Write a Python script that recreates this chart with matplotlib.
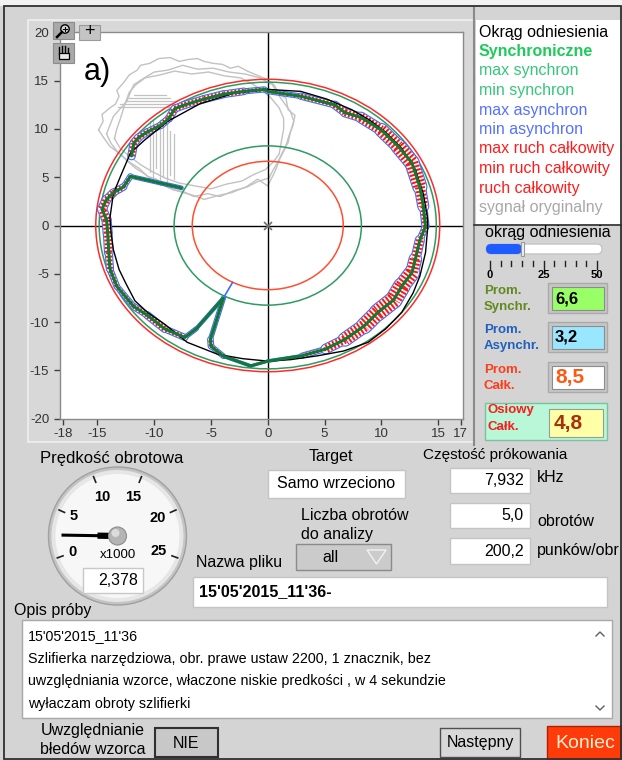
import numpy as np
import matplotlib
matplotlib.use("Agg")
import matplotlib.pyplot as plt
from matplotlib.patches import Circle, Rectangle, FancyBboxPatch, Polygon
from matplotlib.collections import LineCollection

plt.rcParams['font.family'] = ['Liberation Sans', 'DejaVu Sans']
plt.rcParams['lines.scale_dashes'] = False

# ---------------- data ----------------
x_ticks = [-18, -15, -10, -5, 0, 5, 10, 15, 17]
y_ticks = [-20, -15, -10, -5, 0, 5, 10, 15, 20]

ring_radii = [15.15, 14.85, 8.25, 6.65]
ring_colors = ['#ff2b2b', '#2f9a62', '#2f9a62', '#ff4f2f']

# synchronous trace (x, y), NaN = break
sync_x = [-0.3, 0.0, 2.9, 5.9, 6.8, 8.2, 10.0, 11.5, 12.7, 13.4, 13.7, 13.9,
          13.4, 13.0, 12.7, 11.8, 11.1, 9.7, 8.5, 6.8, 5.1, 3.0, 0.0, -1.5,
          -3.9, -5.0, -5.05, -3.9, -6.3, -7.3, -9.1, -10.6, -11.8, -13.3, -13.9,
          -14.0, -14.1, -14.2, -14.6, -14.2, -13.6, -12.7, -12.1, -7.6, np.nan,
          -12.0, -11.8, -11.4, -10.6, -9.4, -8.7, -8.2, -7.3, -5.6, -3.9, -2.1, -0.3]
sync_y = [14.1, 13.9, 13.4, 12.5, 11.7, 11.2, 9.9, 8.2, 6.5, 4.0, 2.0, -0.1,
          -1.5, -3.5, -4.9, -6.3, -7.7, -9.0, -10.4, -11.8, -12.8, -13.5, -14.05, -14.55,
          -13.55, -12.5, -11.8, -7.5, -10.7, -11.6, -10.7, -9.3, -8.4, -6.3, -4.5,
          -2.8, -0.8, 0.6, 1.7, 2.7, 3.4, 4.0, 5.1, 3.9, np.nan,
          7.2, 8.5, 9.1, 9.7, 10.4, 11.1, 12.1, 12.5, 13.1, 13.6, 13.9, 14.1]
# width (px) of the total-motion band (min..max ruch calkowity) along the trace
band_px = [3, 3, 4, 6, 7, 8, 11, 13, 14, 12, 8, 4,
           6, 10, 13, 15, 16, 15, 14, 11, 6, 2, 1, 1,
           2, 5, 4, 2, 2, 4, 6, 6, 4, 4, 5,
           7, 8, 8, 8, 7, 6, 5, 3, 2, 0,
           6, 7, 6, 5, 5, 6, 6, 6, 6, 6, 5, 3]
spike_x = [-3.9, -3.1]
spike_y = [-7.5, -5.9]

# reference circle (Okrag odniesienia)
ref_x = [0, 2.9, 5.2, 7.4, 9.0, 10.3, 11.8, 13.0, 13.7, 14.05, 14.1, 13.9, 13.4, 12.8,
         11.8, 10.4, 8.85, 6.7, 4.4, 2.0, 0, -2.2, -4.4, -7.1, -9.0, -10.6, -11.7, -12.5,
         -13.1, -13.6, -13.8, -13.9, -13.6, -12.9, -12.1, -10.9, -8.8, -6.0, -3.0, 0]
ref_y = [14.1, 13.9, 13.1, 12.0, 10.9, 9.75, 8.0, 5.8, 3.3, 1.0, -0.1, -2.8, -5.25, -7.0,
         -9.0, -10.7, -12.1, -13.0, -13.5, -13.9, -14.05, -13.8, -13.35, -12.1, -10.3, -9.0,
         -7.8, -6.0, -4.55, -2.5, -0.8, 0.8, 3.3, 5.3, 7.5, 8.8, 10.8, 12.6, 13.7, 14.1]

# original signal (sygnal oryginalny) - several revolutions
orig1_x = [-14.9, -14.5, -14.6, -14.0, -13.4, -13.1, -13.3, -12.7, -12.2, -11.5, -11.2, -10.4,
           -9.6, -8.6, -7.8, -7.0, -6.2, -5.6, -4.8, -4.0, -3.3, -2.6, -1.8, -1.0, 0.0, 0.6,
           1.0, 1.6, 1.8, 2.4, 2.2, 1.9, 1.5, 1.1, 0.6, 0.0, -0.9, -1.9, -3.2, -4.4, -5.6,
           -6.5, -7.4, -8.3, -9.1, -9.8, -10.6, -11.3, -12.1, -13.0, -13.9, -14.4, -14.9]
orig1_y = [9.9, 10.8, 11.5, 12.1, 12.6, 13.4, 14.0, 14.8, 15.6, 16.1, 16.6, 16.8,
           17.3, 17.4, 17.0, 17.2, 17.3, 17.0, 16.8, 16.7, 16.3, 16.5, 16.0, 15.6, 15.1, 14.5,
           13.6, 13.2, 12.0, 11.4, 10.3, 9.4, 7.9, 7.0, 5.5, 4.1, 4.8, 4.0, 3.4, 3.1, 2.7,
           3.1, 3.4, 3.7, 4.1, 4.8, 5.1, 5.9, 6.5, 7.4, 8.2, 9.0, 9.9]
orig2_x = [-14.2, -13.9, -13.6, -13.0, -12.4, -12.1, -11.8, -11.0, -10.0, -8.8, -7.5, -6.2,
           -4.8, -3.4, -2.0, -0.7, 0.4, 0.9, 1.5, 2.0, 2.3, 2.0, 1.8, 1.3, 0.9, 0.5, 0.1,
           -0.8, -1.8, -3.0, -4.2, -5.3, -6.5, -7.4, -8.3, -9.2, -10.0, -10.8, -11.6, -12.4,
           -13.2, -13.8, -14.2]
orig2_y = [9.5, 10.4, 11.3, 12.1, 12.9, 13.8, 14.6, 15.2, 15.9, 16.1, 16.6, 16.2,
           16.3, 15.9, 15.7, 15.3, 14.6, 13.6, 12.6, 11.8, 10.8, 9.7, 8.6, 7.6, 6.6, 5.8, 4.9,
           4.6, 4.0, 3.6, 3.0, 3.3, 3.0, 3.5, 3.7, 4.3, 4.6, 5.3, 5.9, 6.7, 7.6, 8.5, 9.5]
orig3_x = [-13.5, -13.3, -13.0, -12.6, -12.2, -11.6, -10.8, -9.5, -8.2, -6.7, -5.2, -3.8,
           -2.4, -1.4, -0.5, 0.3, 1.0, 1.4, 1.4, 1.2, 1.0, 0.5, -0.2, -1.2, -2.3, -3.6, -5.0,
           -6.4, -7.8, -9.0, -10.2, -11.2, -12.2, -13.0, -13.5]
orig3_y = [9.0, 10.0, 11.0, 12.5, 13.8, 14.6, 15.3, 15.6, 16.0, 15.7, 15.9, 15.5,
           15.3, 14.7, 14.0, 13.2, 12.2, 11.1, 10.0, 8.7, 7.4, 6.6, 5.8, 5.3, 4.6, 4.3, 3.8,
           4.1, 4.4, 4.9, 5.6, 6.3, 7.2, 8.0, 9.0]
comb_x = [-10.4, -10.1, -9.8, -9.5, -9.2, -8.9, -8.6, -8.3]
comb_ytop = [10.8, 11.0, 10.5, 10.9, 10.2, 10.6, 9.8, 9.5]
comb_ybot = [5.5, 4.6, 6.0, 4.2, 5.0, 4.4, 5.2, 4.8]
hb_y = [12.3, 12.6, 12.9, 13.2, 13.5]
hb_x0 = [-13.2, -13.0, -12.6, -12.2, -11.8]
hb_x1 = [-8.2, -7.8, -8.0, -8.6, -9.0]

legend_labels = ['Okrąg odniesienia', 'Synchroniczne', 'max synchron', 'min synchron',
                 'max asynchron', 'min asynchron', 'max ruch całkowity',
                 'min ruch całkowity', 'ruch całkowity', 'sygnał oryginalny']
legend_colors = ['#000000', '#1ecb5a', '#35c77a', '#35c77a', '#5572ff', '#5572ff',
                 '#ff1c1c', '#ff1c1c', '#ff1c1c', '#a8a8a8']

ind_labels = [('Prom.', 'Synchr.'), ('Prom.', 'Asynchr.'), ('Prom.', 'Całk.'), ('Osiowy', 'Całk.')]
ind_values = ['6,6', '3,2', '8,5', '4,8']

gauge_ticks = [0, 5, 10, 15, 20, 25]
gauge_value = 2.378
slider_ticks = [0, 5, 10, 15, 20, 25, 30, 35, 40, 45, 50]
slider_value = 15

sample_rate = '7,932'
revolutions = '5,0'
points_per_rev = '200,2'
file_name = "15'05'2015_11'36-"
desc_lines = ["15'05'2015_11'36",
              "Szlifierka narzędziowa, obr. prawe ustaw 2200, 1 znacznik, bez",
              "uwzględniania wzorce, właczone niskie predkości , w 4 sekundzie",
              "wyłaczam obroty szlifierki"]

# ---------------- figure ----------------
W, H = 622, 760
fig = plt.figure(figsize=(6.22, 7.6), dpi=100)
fig.patch.set_facecolor('#d4d4d4')


def px_box(x0, y0, x1, y1):
    return [x0 / W, 1 - y1 / H, (x1 - x0) / W, (y1 - y0) / H]


ui = fig.add_axes([0, 0, 1, 1], zorder=0)
ui.set_xlim(0, W); ui.set_ylim(H, 0); ui.axis('off')

top = fig.add_axes([0, 0, 1, 1], zorder=5)
top.set_xlim(0, W); top.set_ylim(H, 0); top.axis('off')
top.patch.set_alpha(0)

FS = 11.5


def txt(a, x, y, s, size=FS, color='black', weight='normal', ha='left', va='center', **kw):
    a.text(x, y, s, fontsize=size, color=color, fontweight=weight, ha=ha, va=va, **kw)


def rect(a, x, y, w, h, fc, ec='none', lw=1.0, z=1):
    a.add_patch(Rectangle((x, y), w, h, facecolor=fc, edgecolor=ec, linewidth=lw, zorder=z))


# background panels
rect(ui, 0, 0, W, 6, '#f2f2f2')
rect(ui, 28, 20, 446, 422, '#d8d8d8', '#efefef', 1.2)
ui.plot([474, 474], [8, 445], color='#8a8a8a', lw=1.5)
rect(ui, 476, 20, 146, 204, 'white')
ui.plot([474, 622], [224.5, 224.5], color='#303030', lw=1.2)
ui.add_patch(Rectangle((4, 6), 617, 753, fill=False, edgecolor='#303030', linewidth=1.3, zorder=3))

# legend
for i, (lab, col) in enumerate(zip(legend_labels, legend_colors)):
    txt(ui, 479, 32 + i * 19.5, lab, size=FS, color=col, weight='bold' if i == 1 else 'normal')

# slider
txt(ui, 485, 233, 'okrąg odniesienia', size=FS)
ui.add_patch(FancyBboxPatch((486, 244), 116, 10, boxstyle='round,pad=0,rounding_size=5',
                            facecolor='white', edgecolor='#c4c4c4', lw=1))
x_s = 490 + slider_value / 50 * 107
ui.add_patch(FancyBboxPatch((486, 244), x_s - 486, 10, boxstyle='round,pad=0,rounding_size=5',
                            facecolor='#1f5cff', edgecolor='none'))
rect(ui, x_s - 1.5, 242, 3.5, 14, '#eeeeee', '#9a9a9a', 0.8, z=3)
for v in slider_ticks:
    xx = 490 + v / 50 * 107
    L = 8 if v in (0, 25, 50) else 5
    ui.plot([xx, xx], [261, 261 + L], color='#222222', lw=1)
for v in (0, 25, 50):
    txt(ui, 490 + v / 50 * 107, 275, str(v), size=8, weight='bold', ha='center')

# indicators
lab_cols = ['#5f8a1c', '#1f5fbf', '#ff3d1a', '#ff1a1a']
box_fill = ['#99ff66', '#99e6ff', '#ffffff', '#ffffa8']
val_cols = ['#000000', '#000000', '#ff5a14', '#a8300a']
val_size = [12, 12, 15, 15]
box_y = [283, 322, 362, 407]
rect(ui, 485, 403, 122, 37, '#b8f7d8', '#7fbf9f', 1)
for i in range(4):
    y0 = box_y[i]
    txt(ui, 487 if i == 3 else 484, y0 + 8 if i < 3 else y0 + 3, ind_labels[i][0], size=9.5,
        color=lab_cols[i], weight='bold')
    txt(ui, 487 if i == 3 else 484, y0 + 24 if i < 3 else y0 + 20, ind_labels[i][1], size=9.5,
        color=lab_cols[i], weight='bold')
    if i < 3:
        rect(ui, 548, y0, 59, 30, '#c6c6c6', '#aaaaaa', 1)
        rect(ui, 551.5, y0 + 3.5, 52, 23, box_fill[i], '#8c8c8c', 0.8)
        txt(ui, 555, y0 + 15.5, ind_values[i], size=val_size[i], color=val_cols[i], weight='bold')
    else:
        rect(ui, 549, y0 + 2, 54, 28, box_fill[i], '#9a9a9a', 0.8)
        txt(ui, 554, y0 + 16, ind_values[i], size=val_size[i], color=val_cols[i], weight='bold')

# gauge
gc = (117.5, 536)
txt(ui, 40, 458, 'Prędkość obrotowa', size=12)
ui.add_patch(Circle(gc, 69, facecolor='#c4c4c4', edgecolor='#a0a0a0', lw=1))
ui.add_patch(Circle(gc, 66, facecolor='#e6e6e6', edgecolor='none'))
ui.add_patch(Circle(gc, 62, facecolor='#f7f7f7', edgecolor='none'))
lab_r = [48, 48, 42, 42, 44, 44]
for v, lr in zip(gauge_ticks, lab_r):
    a = np.deg2rad(200 - v * 8.8)
    ui.plot([gc[0] + 58 * np.cos(a), gc[0] + 64 * np.cos(a)],
            [gc[1] - 58 * np.sin(a), gc[1] - 64 * np.sin(a)], color='#202020', lw=1.2)
    txt(ui, gc[0] + lr * np.cos(a), gc[1] - lr * np.sin(a), str(v), size=10.5,
        weight='bold', ha='center')
a = np.deg2rad(200 - gauge_value * 8.8)
ui.plot([gc[0], gc[0] + 56 * np.cos(a)], [gc[1], gc[1] - 56 * np.sin(a)], color='black',
        lw=2.2, solid_capstyle='butt')
ui.plot([gc[0], gc[0] + 20 * np.cos(a)], [gc[1], gc[1] - 20 * np.sin(a)], color='black',
        lw=4.5, solid_capstyle='butt')
ui.add_patch(Circle(gc, 9, facecolor='#b4b4b4', edgecolor='#8c8c8c', lw=0.8, zorder=4))
ui.add_patch(Circle((gc[0] - 2, gc[1] - 3), 4, facecolor='#dcdcdc', edgecolor='none', zorder=4))
txt(ui, gc[0], 555, 'x1000', size=9.5, ha='center')
rect(ui, 83, 568, 60, 25, 'white', '#c8c8c8', 1, z=3)
txt(ui, 118, 580.5, '2,378', size=FS, ha='center', zorder=4)

# target / revolutions
txt(ui, 331, 457, 'Target', size=FS, ha='center')
rect(ui, 268, 470, 137, 28, 'white', '#c4c4c4', 1)
txt(ui, 336.5, 484, 'Samo wrzeciono', size=FS, ha='center')
txt(ui, 301, 515, 'Liczba obrotów', size=FS)
txt(ui, 301, 534, 'do analizy', size=FS)
rect(ui, 296, 544, 95, 26, '#cbcbcb', '#8a8a8a', 1)
txt(ui, 330, 557, 'all', size=FS, ha='center')
ui.add_patch(Polygon([(367, 550), (386, 550), (376.5, 564)], closed=True, fill=False,
                     edgecolor='#f2f2f2', lw=1))

# file name
txt(ui, 196, 563, 'Nazwa pliku', size=FS)
rect(ui, 193, 577, 414, 30, 'white', '#c4c4c4', 1)
txt(ui, 199, 592, file_name, size=FS, weight='bold')

# sampling
txt(ui, 423, 455, 'Częstość prókowania', size=11)
for (yb, hb, val, unit, uy) in [(468, 25, sample_rate, 'kHz', 477),
                                (503, 25, revolutions, 'obrotów', 521),
                                (538, 26, points_per_rev, 'punków/obr', 551)]:
    rect(ui, 450, yb, 80, hb, 'white', '#c4c4c4', 1)
    txt(ui, 524, yb + hb / 2, val, size=FS, ha='right')
    txt(ui, 537, uy, unit, size=FS)

# description
txt(ui, 14, 610, 'Opis próby', size=FS)
rect(ui, 22, 620, 590, 98, 'white', '#a8a8a8', 1)
for i, line in enumerate(desc_lines):
    txt(ui, 28, 636 + i * 22.7, line, size=10.3)
ui.plot([596, 600, 604], [636, 632, 636], color='#606060', lw=1)
ui.plot([596, 600, 604], [706, 710, 706], color='#606060', lw=1)

# buttons
txt(ui, 93, 731, 'Uwzględnianie', size=FS, ha='center')
txt(ui, 93, 750, 'błedów wzorca', size=FS, ha='center')
rect(ui, 155, 728, 63, 29, '#c8c8c8', '#303030', 1.5)
txt(ui, 186.5, 743, 'NIE', size=FS, ha='center')
rect(ui, 440, 728, 80, 29, '#d8d8d8', '#505050', 1)
txt(ui, 480, 743, 'Następny', size=FS, ha='center')
rect(ui, 547, 726, 75, 34, '#ff3b0a', '#b02000', 1)
txt(ui, 585, 743, 'Koniec', size=14, ha='center', color='#fff0d0')

# ---------------- plot ----------------
ax = fig.add_axes(px_box(60, 32, 463, 419), zorder=2)
ax.set_facecolor('white')
ax.set_xlim(-18.3, 17.2)
ax.set_ylim(-20.05, 20.05)
ax.set_xticks(x_ticks)
ax.set_xticklabels([str(v) for v in x_ticks])
ax.set_yticks(y_ticks)
ax.set_yticklabels([str(v) for v in y_ticks])
ax.tick_params(direction='out', length=4.3, width=1, color='#404040', labelsize=9.5,
               labelcolor='#333333')
ax.tick_params(axis='y', pad=3.5)
ax.tick_params(axis='x', pad=2.2)
for s in ax.spines.values():
    s.set_color('#8a8a8a')
    s.set_linewidth(1)

# original signal
gray = '#c2c2c2'
for gx, gy in [(orig1_x, orig1_y), (orig2_x, orig2_y), (orig3_x, orig3_y)]:
    ax.plot(gx, gy, color=gray, lw=1.0, zorder=1)
for cx, y0, y1 in zip(comb_x, comb_ybot, comb_ytop):
    ax.plot([cx, cx], [y0, y1], color=gray, lw=0.9, zorder=1)
for hy, x0, x1 in zip(hb_y, hb_x0, hb_x1):
    ax.plot([x0, x1], [hy, hy], color=gray, lw=0.9, zorder=1)

# crosshair
ax.axhline(0, color='black', lw=1, zorder=1.5)
ax.axvline(0, color='black', lw=1, zorder=1.5)

# rings
for r, c in zip(ring_radii, ring_colors):
    ax.add_patch(Circle((0, 0), r, fill=False, edgecolor=c, lw=1.1, zorder=2))

# bands
segs, widths = [], []
for i in range(len(sync_x) - 1):
    if np.isfinite(sync_x[i]) and np.isfinite(sync_x[i + 1]):
        segs.append([(sync_x[i], sync_y[i]), (sync_x[i + 1], sync_y[i + 1])])
        widths.append((band_px[i] + band_px[i + 1]) / 2)
widths = np.array(widths)
ax.add_collection(LineCollection(segs, linewidths=(widths + 2.2) * 0.72, colors='#3b6cff',
                                 capstyle='round', joinstyle='round', zorder=3))
ax.add_collection(LineCollection(segs, linewidths=widths * 0.72, colors='white',
                                 capstyle='round', joinstyle='round', zorder=3.1))
ax.add_collection(LineCollection(segs, linewidths=widths * 0.72, colors='#ff1414',
                                 linestyles=[(0, (1.4, 1.3))], capstyle='butt', zorder=3.2))
ax.plot(spike_x, spike_y, color='#3b6cff', lw=1.2, zorder=3)

# reference circle
ax.plot(ref_x, ref_y, color='black', lw=1.0, zorder=3.5)
# synchronous
ax.plot(sync_x, sync_y, color='#0f7a36', lw=2.2, solid_joinstyle='round',
        solid_capstyle='round', zorder=4)
ax.plot([0], [0], marker='x', color='#707070', ms=6, mew=1.2, zorder=5)

# overlay: label and tool icons
txt(top, 84, 72, 'a)', size=22)
rect(top, 53, 22, 21, 17, '#a9a9a9', '#8c8c8c', 0.8)
top.add_patch(Circle((65, 29), 4.2, facecolor='#d8d8d8', edgecolor='black', lw=1, zorder=3))
top.plot([62, 57], [32, 37], color='black', lw=1.8, zorder=3)
top.plot([63, 67], [29, 29], color='black', lw=0.8, zorder=4)
top.plot([65, 65], [27, 31], color='black', lw=0.8, zorder=4)
rect(top, 79, 25, 21, 15, '#c4c4c4', '#9a9a9a', 0.8)
txt(top, 89.5, 32, '+', size=13, ha='center')
rect(top, 53, 43, 21, 20, '#a9a9a9', '#8c8c8c', 0.8)
for fx, fy in [(59, 47), (62, 46), (65, 46), (68, 48)]:
    top.plot([fx, fx], [fy, 54], color='black', lw=1, zorder=3)
top.add_patch(Rectangle((58.5, 53), 10, 6, facecolor='#e8e8e8', edgecolor='black', lw=0.9,
                        zorder=3))

fig.savefig('out.png', dpi=100, facecolor=fig.get_facecolor())
